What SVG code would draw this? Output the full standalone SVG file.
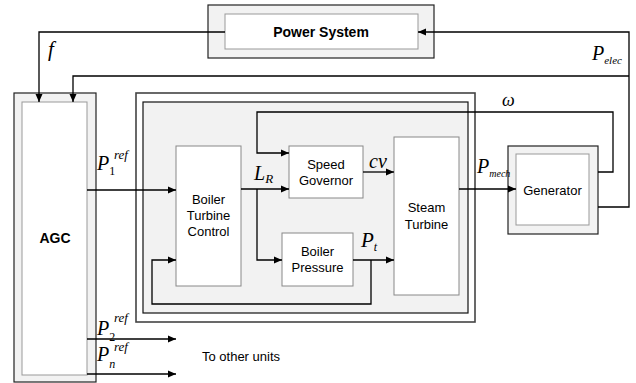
<svg xmlns="http://www.w3.org/2000/svg" width="636" height="383" viewBox="0 0 636 383">
<defs>
<marker id="arr" markerUnits="userSpaceOnUse" markerWidth="9" markerHeight="8" refX="8" refY="4" orient="auto">
<path d="M0,0.5 L8,4 L0,7.5 z" fill="#000"/>
</marker>
<style>
.outer{fill:#f2f2f2;stroke:#222;stroke-width:1.2}
.inner{fill:#fff;stroke:#999;stroke-width:1}
.blk{fill:#fff;stroke:#888;stroke-width:1}
.lbl{font-family:"Liberation Sans",Arial,sans-serif;font-size:13px;fill:#000;text-anchor:middle}
.bold{font-weight:bold;font-size:14px}
.m{font-family:"Liberation Serif","Times New Roman",serif;font-style:italic;fill:#000}
.c{fill:none;stroke:#000;stroke-width:1.3}
.ca{fill:none;stroke:#000;stroke-width:1.3;marker-end:url(#arr)}
</style>
</defs>

<g id="power-system">
<rect class="outer" x="208" y="5" width="226" height="53"/>
<rect class="inner" x="225" y="14" width="193" height="35"/>
<text class="lbl bold" x="321" y="37">Power System</text>
</g>

<g id="agc">
<rect class="outer" x="14" y="93" width="82" height="289"/>
<rect class="inner" x="22" y="102" width="65" height="273"/>
<text class="lbl bold" x="55" y="243">AGC</text>
</g>

<g id="unit-enclosure">
<rect x="136" y="93" width="339" height="229" fill="#fff" stroke="#444" stroke-width="1.6"/>
<rect x="143" y="102" width="325" height="211" fill="#f2f2f2" stroke="#111" stroke-width="1.2"/>
</g>

<g id="boiler-turbine-control">
<rect class="blk" x="176" y="146" width="65" height="140"/>
<text class="lbl" x="208.5" y="204">Boiler</text>
<text class="lbl" x="208.5" y="220">Turbine</text>
<text class="lbl" x="208.5" y="236">Control</text>
</g>

<g id="speed-governor">
<rect class="blk" x="289" y="146" width="74" height="52" stroke="#555"/>
<text class="lbl" x="326" y="169">Speed</text>
<text class="lbl" x="326" y="185">Governor</text>
</g>

<g id="boiler-pressure">
<rect class="blk" x="282" y="233" width="71" height="53" stroke="#777"/>
<text class="lbl" x="317.5" y="256">Boiler</text>
<text class="lbl" x="317.5" y="272">Pressure</text>
</g>

<g id="steam-turbine">
<rect class="blk" x="394" y="137" width="65" height="158"/>
<text class="lbl" x="426.5" y="212">Steam</text>
<text class="lbl" x="426.5" y="229">Turbine</text>
</g>

<g id="generator">
<rect class="outer" x="508" y="146" width="90" height="88"/>
<rect class="inner" x="516" y="154" width="73" height="71"/>
<text class="lbl" x="552.5" y="195">Generator</text>
</g>

<g id="connectors">
<path class="ca" d="M225,32 H39 V102"/>
<path class="ca" d="M629,76 H73 V102"/>
<path class="ca" d="M598,207 H629 V32 H418"/>
<path class="ca" d="M598,172 H613 V112 H257 V153 H289"/>
<path class="ca" d="M87,190 H176"/>
<path class="ca" d="M241,189 H289"/>
<path class="ca" d="M257,189 V260 H282"/>
<path class="ca" d="M363,172 H394"/>
<path class="ca" d="M353,260 H394"/>
<path class="ca" d="M371,260 V304 H152 V260 H176"/>
<path class="ca" d="M459,189 H516"/>
<path class="ca" d="M87,339 H176"/>
<path class="ca" d="M87,374 H176"/>
</g>

<g id="labels">
<text class="m" x="48" y="56" font-size="21">f</text>
<text class="m" x="592" y="60" font-size="20">P<tspan font-size="11" dy="4">elec</tspan></text>
<text class="m" x="502" y="106" font-size="18">ω</text>
<text class="m" x="97" y="170" font-size="20">P<tspan font-size="12" font-style="normal" dy="5">1</tspan></text>
<text class="m" x="114" y="159" font-size="13">ref</text>
<text class="m" x="254" y="180" font-size="20">L<tspan font-size="13" dy="3">R</tspan></text>
<text class="m" x="369" y="168" font-size="20">cv</text>
<text class="m" x="361" y="247" font-size="21">P<tspan font-size="12" dy="4">t</tspan></text>
<text class="m" x="477" y="173" font-size="20">P<tspan font-size="10" dy="4">mech</tspan></text>
<text class="m" x="97" y="335" font-size="20">P<tspan font-size="12" font-style="normal" dy="6">2</tspan></text>
<text class="m" x="114" y="322" font-size="13">ref</text>
<text class="m" x="97" y="361" font-size="20">P<tspan font-size="12" dy="7">n</tspan></text>
<text class="m" x="114" y="351" font-size="13">ref</text>
<text class="lbl" x="241" y="361">To other units</text>
</g>
</svg>
